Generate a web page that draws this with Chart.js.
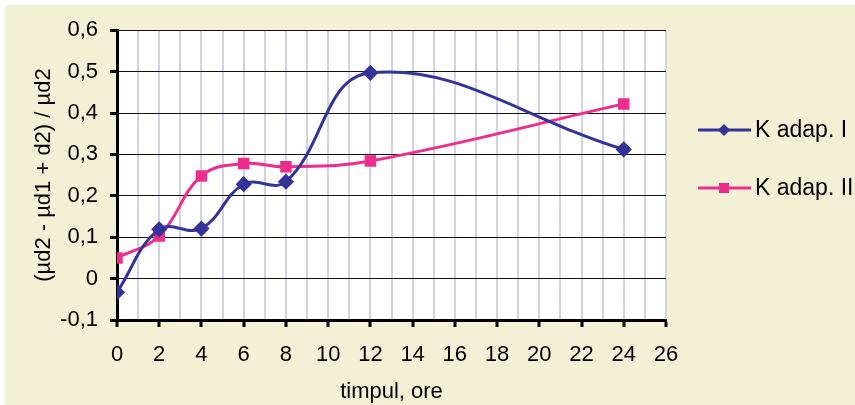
<!DOCTYPE html>
<html>
<head>
<meta charset="utf-8">
<script src="https://cdn.jsdelivr.net/npm/chart.js@4.4.1/dist/chart.umd.min.js"></script>
<style>
  body { margin: 0; background: #ffffff; }
  #cuadro { position: absolute; left: 5px; top: 5px; width: 850px; height: 400px; background: #F2F1D5; }
</style>
</head>
<body>
<div id="cuadro"><canvas id="grafica" width="850" height="400"></canvas></div>
<script>
// datos
const horas = [0, 2, 4, 6, 8, 12, 24];
const kAdapI = [-0.033, 0.119, 0.121, 0.228, 0.234, 0.497, 0.312];
const kAdapII = [0.05, 0.103, 0.248, 0.278, 0.27, 0.284, 0.422];
const etiquetas = ['K adap. I', 'K adap. II'];
const colores = ['#333399', '#EE2D8C'];

const fuente = '"Liberation Sans", Arial, sans-serif';

function puntos(valores) {
    return horas.map((h, i) => ({ x: h, y: valores[i] }));
}

const fondoBlanco = {
    id: 'fondoBlanco',
    beforeDraw(chart) {
        const a = chart.chartArea;
        const ctx = chart.ctx;
        ctx.save();
        ctx.fillStyle = '#ffffff';
        ctx.fillRect(a.left, a.top, a.right - a.left, a.bottom - a.top);
        ctx.restore();
    }
};

// leyenda a la derecha, linea + marcador
const leyenda = {
    id: 'leyenda',
    afterDraw(chart) {
        const ctx = chart.ctx;
        ctx.save();
        chart.data.datasets.forEach((ds, i) => {
            const y = 125 + i * 58;
            ctx.strokeStyle = ds.borderColor;
            ctx.lineWidth = 3;
            ctx.beginPath();
            ctx.moveTo(693, y);
            ctx.lineTo(746, y);
            ctx.stroke();
            ctx.fillStyle = ds.borderColor;
            ctx.beginPath();
            if (ds.pointStyle === 'rectRot') {
                ctx.moveTo(719, y - 6);
                ctx.lineTo(725, y);
                ctx.lineTo(719, y + 6);
                ctx.lineTo(713, y);
            } else {
                ctx.rect(714, y - 5, 10, 10);
            }
            ctx.closePath();
            ctx.fill();
            ctx.fillStyle = '#000000';
            ctx.font = '23px ' + fuente;
            ctx.textBaseline = 'middle';
            ctx.fillText(ds.label, 750, y + 1);
        });
        ctx.restore();
    }
};

const ctx = document.getElementById('grafica').getContext('2d');
new Chart(ctx, {
    type: 'line',
    data: {
        datasets: [
            {
                label: etiquetas[0],
                data: puntos(kAdapI),
                borderColor: colores[0],
                backgroundColor: colores[0],
                borderWidth: 3,
                tension: 0.4,
                pointStyle: 'rectRot',
                pointRadius: 6,
                pointHoverRadius: 6
            },
            {
                label: etiquetas[1],
                data: puntos(kAdapII),
                borderColor: colores[1],
                backgroundColor: colores[1],
                borderWidth: 3,
                tension: 0.4,
                pointStyle: 'rect',
                pointRadius: 6,
                pointHoverRadius: 6
            }
        ]
    },
    options: {
        responsive: false,
        animation: false,
        layout: { padding: { top: 20, right: 189, bottom: 0, left: 0 } },
        plugins: { legend: { display: false }, tooltip: { enabled: false } },
        scales: {
            x: {
                type: 'linear',
                min: 0,
                max: 26,
                afterFit(s) { s.height = 85; },
                ticks: {
                    stepSize: 1,
                    autoSkip: false,
                    maxRotation: 0,
                    padding: 15,
                    color: '#000',
                    font: { size: 22, family: fuente },
                    callback: v => (v % 2 === 0 ? String(v) : '')
                },
                grid: {
                    color: '#D2D2E0',
                    lineWidth: 2,
                    tickLength: 7,
                    tickWidth: 3,
                    tickColor: c => (c.tick && c.tick.value % 2 === 0 ? '#000' : 'rgba(0,0,0,0)')
                },
                border: { color: '#000', width: 3 },
                title: {
                    display: true,
                    text: 'timpul, ore',
                    color: '#000',
                    padding: 0,
                    font: { size: 22, family: fuente }
                }
            },
            y: {
                min: -0.1,
                max: 0.6,
                afterFit(s) { s.width = 112; },
                ticks: {
                    stepSize: 0.1,
                    padding: 12,
                    color: '#000',
                    font: { size: 22, family: fuente },
                    callback: v => (Math.abs(v) < 1e-9 ? '0' : v.toFixed(1).replace('.', ','))
                },
                grid: {
                    color: '#111',
                    lineWidth: 1,
                    tickLength: 7,
                    tickWidth: 3,
                    tickColor: '#000'
                },
                border: { color: '#000', width: 3 },
                title: {
                    display: true,
                    text: '(µd2 - µd1 + d2) / µd2',
                    color: '#000',
                    padding: { top: 26, bottom: 0 },
                    font: { size: 22, family: fuente }
                }
            }
        }
    },
    plugins: [fondoBlanco, leyenda]
});
</script>
</body>
</html>
